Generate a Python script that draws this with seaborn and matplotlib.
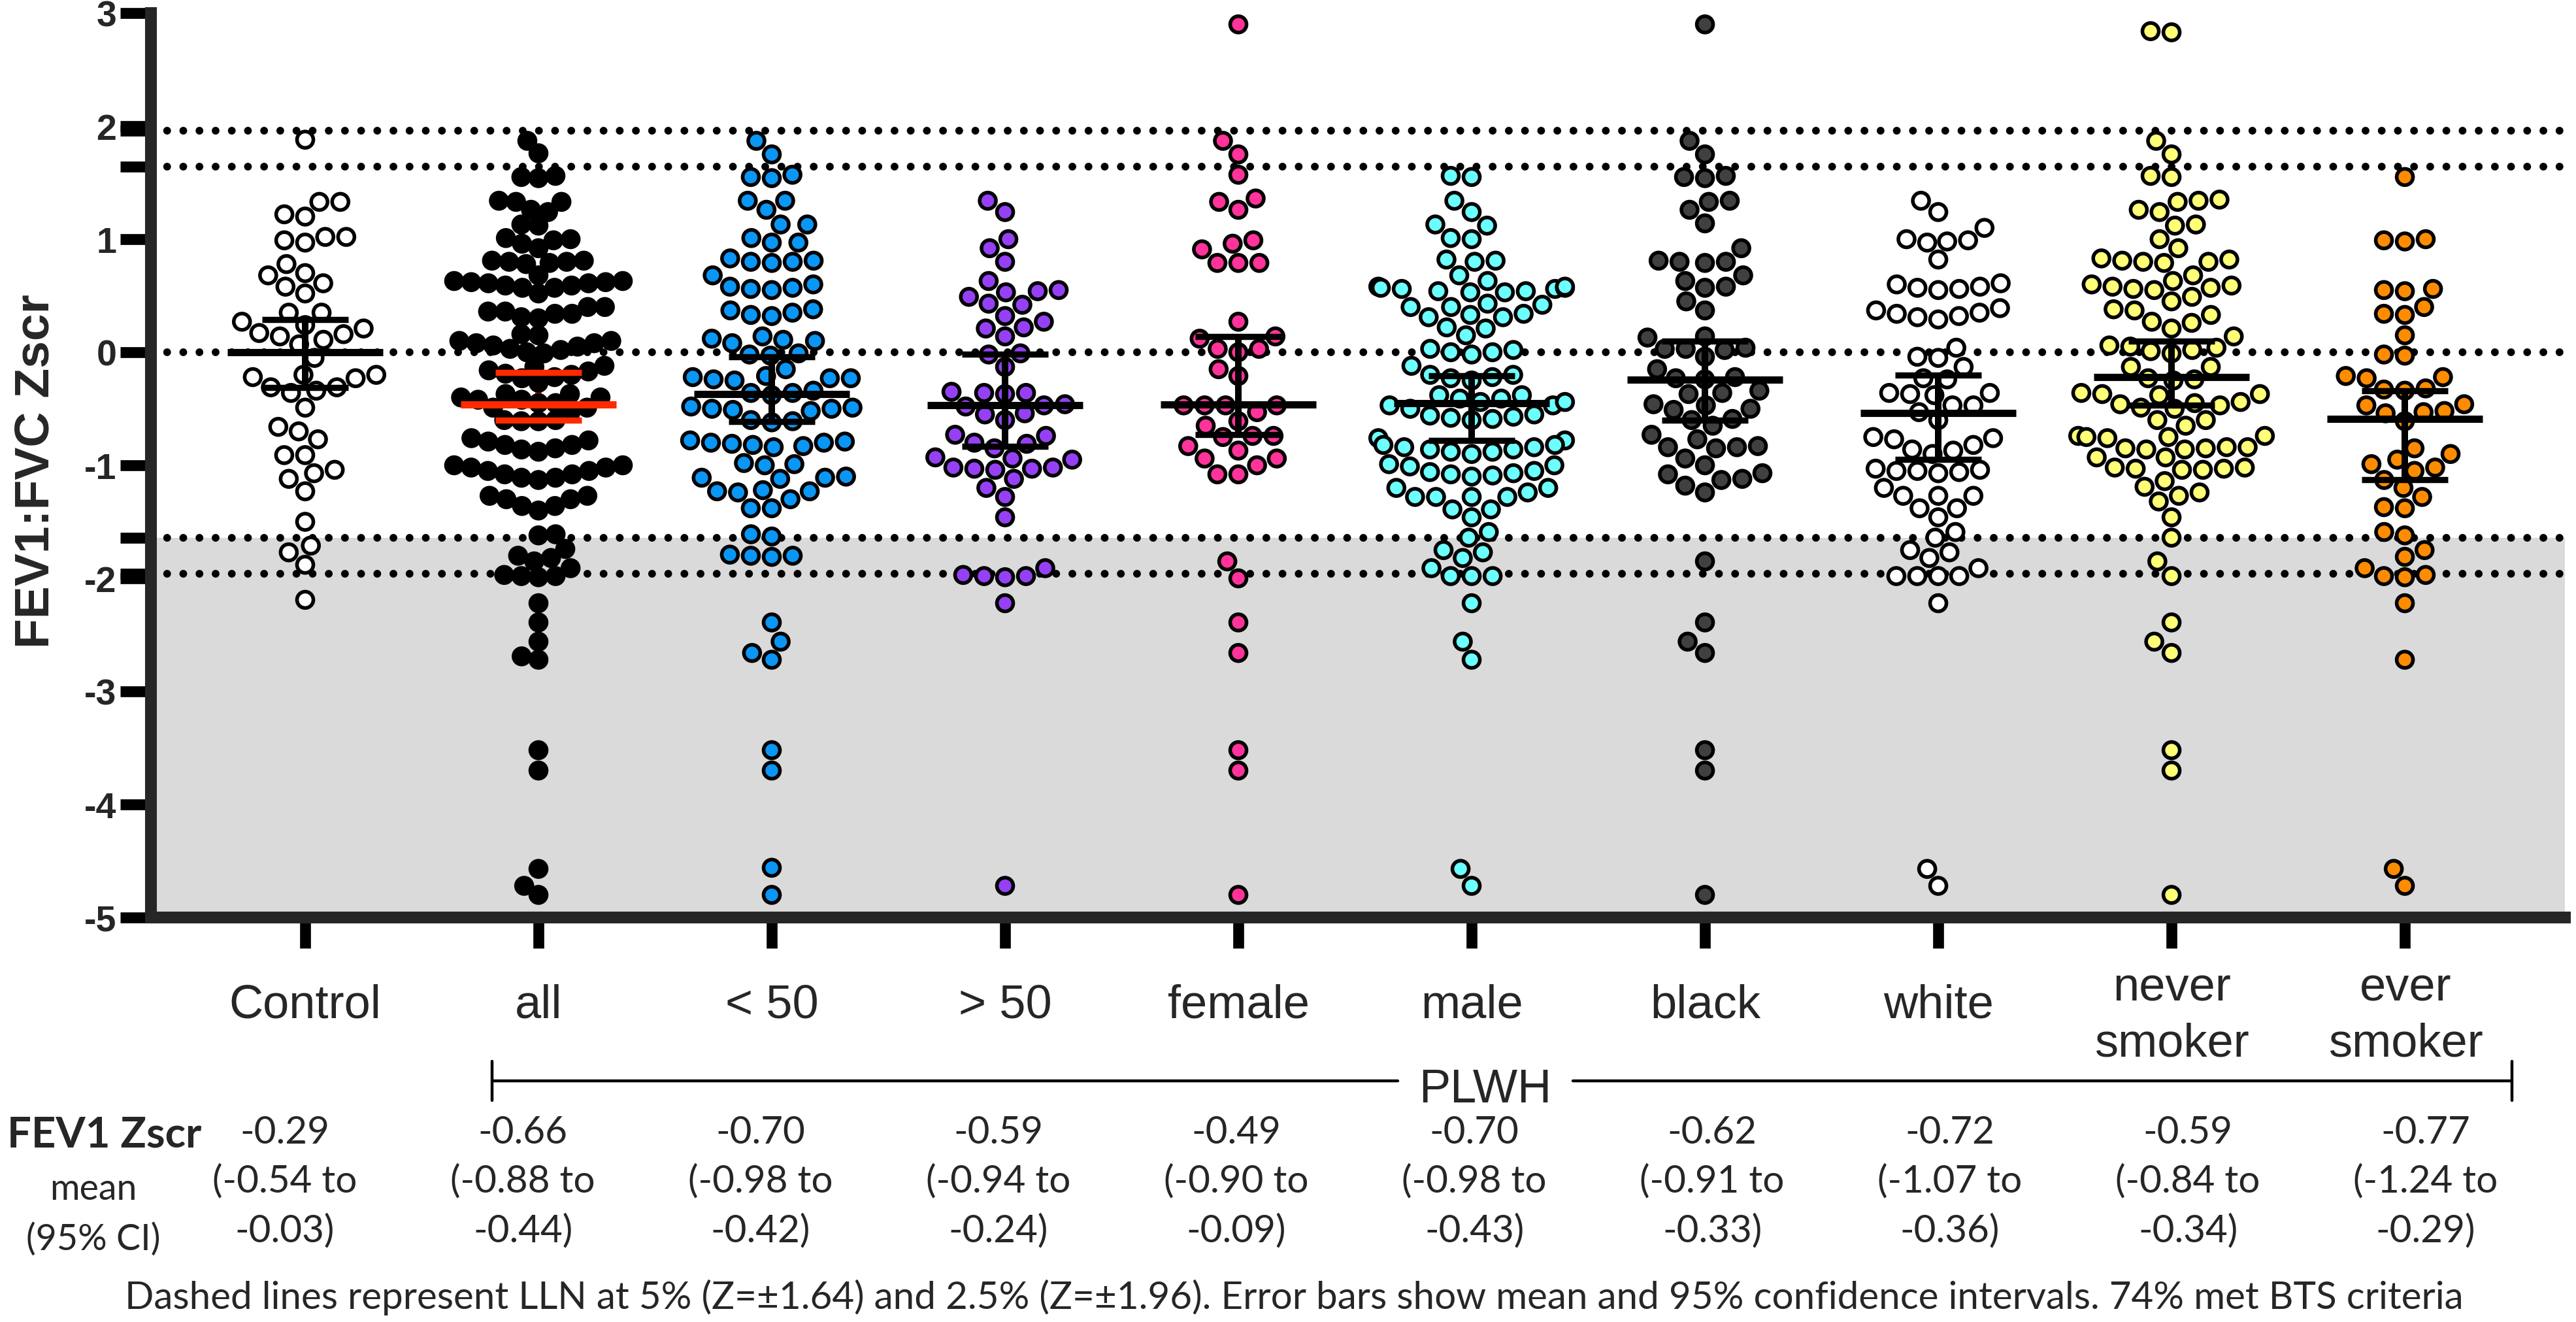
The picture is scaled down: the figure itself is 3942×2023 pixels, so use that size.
import numpy as np
import pandas as pd
import matplotlib
matplotlib.use("Agg")
import matplotlib.pyplot as plt
from matplotlib.lines import Line2D
import seaborn as sns

#%% Values

groups = ["Control", "all", "< 50", "> 50", "female", "male",
          "black", "white", "never\nsmoker", "ever\nsmoker"]

colors = ["#FFFFFF", "#000000", "#0A96F5", "#9640F5", "#FF3399",
          "#6CFFFF", "#404040", "#FFFFFF", "#FFFF77", "#FF8C00"]

control = [1.88, 1.33, 1.33, 1.20, 1.22, 1.02, 1.02, 0.99, 0.97, 0.78, 0.68, 0.70,
           0.58, 0.61, 0.52, 0.27, 0.35, 0.35, 0.21, 0.16, 0.17, 0.24, 0.11, 0.14,
           0.07, -0.05, -0.23, -0.20, -0.20, -0.22, -0.31, -0.31, -0.34, -0.36,
           -0.49, -0.66, -0.70, -0.77, -0.91, -0.91, -1.04, -1.12, -1.07, -1.23,
           -1.50, -1.77, -1.71, -1.88, -2.19]

plwh_all = [1.87, 1.76, 1.55, 1.56, 1.54, 1.33, 1.34, 1.33, 1.26, 1.24, 1.13, 1.12,
            1.00, 1.01, 0.99, 0.96, 0.92,
            0.81, 0.80, 0.79, 0.80, 0.78, 0.81, 0.68,
            0.63, 0.62, 0.61, 0.59, 0.57, 0.52, 0.57, 0.59, 0.61, 0.62, 0.63,
            0.40, 0.40, 0.36, 0.34, 0.30, 0.31, 0.34, 0.36, 0.16, 0.15,
            0.10, 0.08, 0.06, 0.03, 0.00, -0.01, 0.02, 0.05, 0.08, 0.10,
            -0.12, -0.17, -0.20, -0.23, -0.27, -0.22, -0.19, -0.16, -0.13,
            -0.37, -0.40, -0.42, -0.45, -0.49, -0.53, -0.49, -0.45, -0.42, -0.40, -0.37,
            -0.60, -0.61, -0.61, -0.60,
            -0.78, -0.82, -0.85, -0.88, -0.86, -0.82, -0.79, -0.76,
            -1.00, -1.02, -1.05, -1.08, -1.11, -1.13, -1.11, -1.08, -1.05, -1.02, -1.00,
            -1.27, -1.30, -1.36, -1.40, -1.36, -1.30, -1.27,
            -1.62, -1.61, -1.85, -1.74, -1.80, -1.82, -1.91,
            -1.98, -1.99, -1.98, -1.97,
            -2.22, -2.39, -2.56, -2.69, -2.72, -3.52, -3.70, -4.57, -4.72, -4.80]

under_50 = [1.87, 1.75, 1.57, 1.55, 1.54, 1.34, 1.34, 1.26, 1.13, 1.13, 1.01, 0.97, 0.97,
            0.83, 0.80, 0.79, 0.81, 0.80, 0.68,
            0.60, 0.55, 0.58, 0.56, 0.57,
            0.37, 0.33, 0.35, 0.32, 0.38,
            0.14, 0.10, 0.12, 0.08, 0.11,
            -0.02, -0.01, -0.03, -0.15,
            -0.21, -0.23, -0.25, -0.22, -0.24, -0.23,
            -0.34, -0.36, -0.38, -0.36,
            -0.48, -0.50, -0.52, -0.49, -0.51, -0.50,
            -0.60, -0.61, -0.62,
            -0.78, -0.80, -0.82, -0.84, -0.81, -0.79, -0.83, -0.80,
            -0.98, -0.99, -1.00,
            -1.10, -1.11, -1.12, -1.11,
            -1.22, -1.23, -1.24, -1.23, -1.30, -1.38, -1.38,
            -1.61, -1.63, -1.79, -1.80, -1.81, -1.80,
            -2.39, -2.56, -2.66, -2.72, -3.52, -3.70, -4.56, -4.80]

over_50 = [1.34, 1.24, 1.00, 0.92, 0.80, 0.63, 0.54, 0.55, 0.53, 0.49, 0.42, 0.43,
           0.32, 0.27, 0.21, 0.22, 0.14, -0.02, -0.01, -0.13,
           -0.35, -0.36, -0.37, -0.36, -0.47, -0.46, -0.48, -0.54, -0.55, -0.60,
           -0.74, -0.73, -0.80, -0.81, -0.85, -0.93, -0.94, -0.95,
           -1.02, -1.03, -1.04, -1.03, -1.02, -1.12, -1.20, -1.28, -1.46,
           -1.91, -1.98, -1.97, -1.98, -1.99, -2.22, -4.72]

female = [2.90, 1.87, 1.75, 1.57, 1.36, 1.33, 1.26, 0.99, 0.96, 0.91, 0.79, 0.79, 0.79,
          0.27, 0.14, 0.12, 0.03, 0.03, 0.00, -0.15, -0.21,
          -0.47, -0.47, -0.47, -0.47, -0.53, -0.61, -0.65, -0.74, -0.74, -0.75,
          -0.83, -0.87, -0.94, -0.94, -1.00, -1.08, -1.08,
          -1.85, -2.00, -2.39, -2.66, -3.52, -3.70, -4.80]

male = [1.55, 1.56, 1.34, 1.24, 1.13, 1.12, 1.00, 1.01, 0.81, 0.80, 0.82, 0.68, 0.63,
        0.58, 0.57, 0.56, 0.54, 0.53, 0.53, 0.54, 0.56, 0.57, 0.58,
        0.43, 0.40, 0.40, 0.42, 0.34, 0.31, 0.31, 0.33, 0.21, 0.22, 0.15,
        0.03, 0.00, -0.02, 0.00, 0.02, -0.12,
        -0.20, -0.23, -0.25, -0.22, -0.20,
        -0.38, -0.41, -0.44, -0.47, -0.50, -0.47, -0.44, -0.41, -0.38,
        -0.55, -0.57, -0.59, -0.58, -0.56, -0.60, -0.76, -0.78,
        -0.82, -0.84, -0.86, -0.88, -0.90, -0.88, -0.86, -0.84, -0.82,
        -0.99, -1.01, -1.00, -1.05, -1.07, -1.09, -1.08, -1.06, -1.10,
        -1.20, -1.20, -1.24, -1.28, -1.28, -1.28, -1.28, -1.39, -1.39, -1.46,
        -1.59, -1.64, -1.75, -1.77, -1.82, -1.91, -1.98, -1.98, -1.98,
        -2.22, -2.56, -2.72, -4.57, -4.72]

black = [2.90, 1.87, 1.75, 1.55, 1.56, 1.54, 1.34, 1.33, 1.26, 1.14, 0.92,
         0.80, 0.81, 0.79, 0.80, 0.68, 0.63, 0.57, 0.58, 0.45, 0.37, 0.14, 0.13,
         0.04, 0.03, 0.02, 0.03, -0.04, -0.15, -0.23, -0.22, -0.24,
         -0.34, -0.37, -0.36, -0.47, -0.46, -0.51, -0.50, -0.60, -0.59, -0.65,
         -0.73, -0.77, -0.84, -0.83, -0.85, -0.84, -0.94, -1.00,
         -1.08, -1.07, -1.13, -1.12, -1.18, -1.24,
         -1.85, -2.39, -2.56, -2.66, -3.52, -3.70, -4.80]

white = [1.34, 1.24, 1.10, 0.99, 0.97, 0.98, 1.00, 0.82,
         0.60, 0.58, 0.56, 0.55, 0.57, 0.61,
         0.37, 0.35, 0.32, 0.29, 0.31, 0.34, 0.39,
         0.04, -0.05, -0.04, -0.13, -0.23, -0.24,
         -0.36, -0.37, -0.38, -0.36, -0.47, -0.47, -0.53, -0.60,
         -0.76, -0.75, -0.77, -0.82, -0.87, -0.86, -0.90,
         -1.03, -1.05, -1.07, -1.06, -1.04, -1.05,
         -1.20, -1.27, -1.27, -1.27, -1.38, -1.38, -1.46,
         -1.59, -1.64, -1.75, -1.77, -1.82, -1.91,
         -1.98, -1.98, -1.98, -1.98, -2.22, -4.57, -4.72]

never_smoker = [2.83, 2.84, 1.87, 1.75, 1.55, 1.56, 1.34, 1.33, 1.35, 1.26, 1.24,
                1.12, 1.13, 1.00, 0.92,
                0.82, 0.80, 0.79, 0.81, 0.80, 0.83, 0.68, 0.63,
                0.59, 0.57, 0.55, 0.56, 0.58, 0.60,
                0.49, 0.45, 0.38, 0.37, 0.33, 0.27, 0.26, 0.21, 0.14,
                0.06, 0.04, 0.01, -0.01, 0.02, 0.05, -0.13, -0.13,
                -0.23, -0.24, -0.25, -0.36, -0.37, -0.38, -0.37,
                -0.45, -0.47, -0.50, -0.49, -0.46, -0.44,
                -0.60, -0.60, -0.65,
                -0.74, -0.75, -0.76, -0.75, -0.74,
                -0.84, -0.85, -0.86, -0.85, -0.84, -0.86, -0.93, -0.93,
                -1.02, -1.03, -1.04, -1.03, -1.02, -1.04,
                -1.14, -1.19, -1.24, -1.27, -1.32, -1.46, -1.64, -1.85, -1.98,
                -2.39, -2.56, -2.66, -3.52, -3.70, -4.80]

ever_smoker = [1.55, 0.99, 1.00, 0.98, 0.55, 0.56, 0.54, 0.40, 0.33, 0.34, 0.15,
               -0.03, -0.02, -0.22, -0.21, -0.23, -0.33, -0.32, -0.34,
               -0.46, -0.47, -0.53, -0.52, -0.54, -0.61,
               -0.85, -0.90, -0.95, -0.99, -1.02, -1.05, -1.13, -1.20, -1.28,
               -1.38, -1.37, -1.59, -1.62, -1.75, -1.81, -1.91,
               -1.98, -1.99, -1.97, -2.22, -2.72, -4.57, -4.72]

# mean and 95% CI of FEV1:FVC Zscr (error bars)
mean_z = [0.00, -0.46, -0.37, -0.47, -0.46, -0.45, -0.24, -0.54, -0.22, -0.59]
ci_hi = [0.29, -0.18, -0.04, -0.02, 0.14, -0.21, 0.10, -0.20, 0.10, -0.34]
ci_lo = [-0.31, -0.60, -0.61, -0.83, -0.73, -0.78, -0.60, -0.95, -0.47, -1.13]

# FEV1 Zscr table under the axis
fev1_mean = ["-0.29", "-0.66", "-0.70", "-0.59", "-0.49", "-0.70", "-0.62", "-0.72", "-0.59", "-0.77"]
fev1_lo = ["-0.54", "-0.88", "-0.98", "-0.94", "-0.90", "-0.98", "-0.91", "-1.07", "-0.84", "-1.24"]
fev1_hi = ["-0.03", "-0.44", "-0.42", "-0.24", "-0.09", "-0.43", "-0.33", "-0.36", "-0.34", "-0.29"]

lln_lines = [1.96, 1.64, 0, -1.64, -1.96]

footnote = ("Dashed lines represent LLN at 5% (Z=\u00b11.64) and 2.5% (Z=\u00b11.96). "
            "Error bars show mean and 95% confidence intervals. 74% met BTS criteria")

#%% Long table for seaborn

values = [control, plwh_all, under_50, over_50, female, male,
          black, white, never_smoker, ever_smoker]
df = pd.DataFrame({"group": np.repeat(groups, [len(v) for v in values]),
                   "zscr": np.concatenate(values)})

#%% Figure setup

W, H = 3942, 2024
DPI = 200
sns.set_style("ticks")
plt.rcParams["font.family"] = ["Liberation Sans", "DejaVu Sans"]
plt.rcParams["axes.unicode_minus"] = False

fig = plt.figure(figsize=(W / DPI, H / DPI), dpi=DPI)
ax = fig.add_axes([231 / W, 1 - 1405 / H, (3925 - 231) / W, (1405 - 21) / H])


def fx(px):
    return px / W


def fy(py):
    return 1 - py / H


#%% Background band and LLN lines

ax.axhspan(-5, -1.64, color="#DADADA", lw=0, zorder=0)
for y in lln_lines:
    ax.axhline(y, color="black", lw=4.3, ls=(0, (0.001, 2.07)),
               dash_capstyle="round", zorder=1)

#%% Swarms

pal = dict(zip(groups, colors))
swarm_kw = dict(x="group", y="zscr", hue="group", order=groups, hue_order=groups,
                palette=pal, linewidth=2.0, edgecolor="black", legend=False,
                ax=ax, zorder=3)

# the "all" swarm overlaps in the original, so it is laid out tighter
n0 = len(ax.collections)
sns.swarmplot(data=df[df["group"] == "all"], size=7.0, **swarm_kw)
all_points = ax.collections[n0:]
sns.swarmplot(data=df[df["group"] != "all"], size=9, **swarm_kw)

#%% Mean and 95% CI bars

for i, g in enumerate(groups):
    c = "#FF2A00" if g == "all" else "black"
    z_stem = 2 if g == "all" else 4
    ax.hlines(mean_z[i], i - 0.333, i + 0.333, color=c, lw=4, zorder=4)
    ax.vlines(i, ci_lo[i], ci_hi[i], color=c, lw=3.6, zorder=z_stem)
    ax.hlines([ci_lo[i], ci_hi[i]], i - 0.186, i + 0.186, color=c, lw=3.4, zorder=4)

#%% Axes styling

ax.set_xlim(-0.661, 9.686)
ax.set_ylim(-5, 3)
ax.set_yticks(range(-5, 4))
ax.set_yticks([-1.96, -1.64, 1.64, 1.96], minor=True)
ax.set_xticks(range(len(groups)))
ax.set_xticklabels([])
ax.set_xlabel("")
ax.set_ylabel("")
for s in ["top", "right"]:
    ax.spines[s].set_visible(False)
for s in ["left", "bottom"]:
    ax.spines[s].set_linewidth(6.5)
ax.tick_params(which="both", direction="out", length=17, width=6, color="black")
ax.tick_params(axis="y", labelsize=20, pad=2)
for lab in ax.get_yticklabels():
    lab.set_fontweight("bold")

fig.text(fx(55), fy(721), "FEV1:FVC Zscr", rotation=90, ha="center", va="center",
         fontsize=27, fontweight="bold")

#%% Category labels

for i, g in enumerate(groups):
    xc = (467 + 357.1 * i) / W
    lines = g.split("\n")
    base = 1557 if len(lines) == 1 else 1531
    for k, t in enumerate(lines):
        fig.text(xc, fy(base + 86 * k), t, ha="center", va="baseline", fontsize=26)

#%% PLWH bracket

lw_b = 1.6
fig.add_artist(Line2D([fx(753), fx(2139)], [fy(1655)] * 2, color="black", lw=lw_b))
fig.add_artist(Line2D([fx(2407), fx(3844)], [fy(1655)] * 2, color="black", lw=lw_b))
fig.add_artist(Line2D([fx(753)] * 2, [fy(1625), fy(1685)], color="black", lw=lw_b))
fig.add_artist(Line2D([fx(3844)] * 2, [fy(1625), fy(1685)], color="black", lw=lw_b))
fig.text(fx(2273), fy(1687), "PLWH", ha="center", va="baseline", fontsize=26)

#%% FEV1 table

tfont = ["Lato", "DejaVu Sans"]
fig.text(fx(308), fy(1755), "FEV1 Zscr", ha="right", va="baseline",
         fontsize=23.5, fontweight="bold", family=tfont)
fig.text(fx(143), fy(1836), "mean", ha="center", va="baseline", fontsize=20, family=tfont)
fig.text(fx(143), fy(1913), "(95% CI)", ha="center", va="baseline", fontsize=20, family=tfont)
for i in range(len(groups)):
    xc = fx(436 + 364 * i)
    fig.text(xc, fy(1750), fev1_mean[i], ha="center", va="baseline", fontsize=21, family=tfont)
    fig.text(xc, fy(1824), "(" + fev1_lo[i] + " to", ha="center", va="baseline",
             fontsize=21, family=tfont)
    fig.text(xc, fy(1900), fev1_hi[i] + ")", ha="center", va="baseline",
             fontsize=21, family=tfont)

fig.text(fx(1980), fy(2003), footnote, ha="center", va="baseline", fontsize=21, family=tfont)

# lay out the swarms once, then show the tight "all" swarm at full marker size
fig.canvas.draw()
for pts in all_points:
    pts.__dict__.pop("draw", None)
    pts.set_sizes([9 ** 2])

fig.savefig("out.png", dpi=DPI)
